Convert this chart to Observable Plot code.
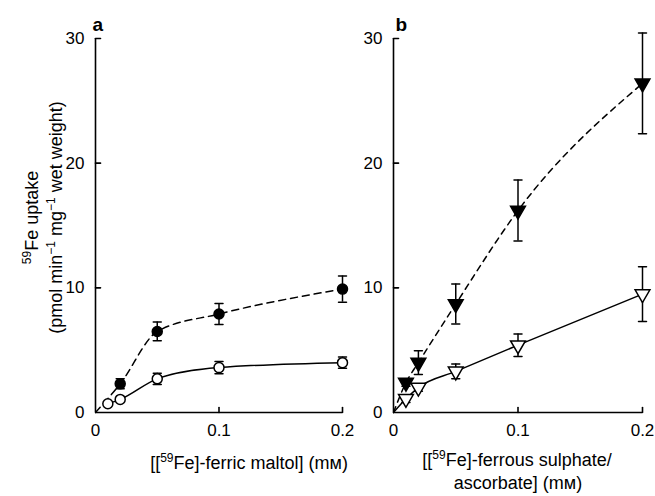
<!DOCTYPE html>
<html><head><meta charset="utf-8">
<script src="https://cdn.jsdelivr.net/npm/d3@7"></script>
<script src="https://cdn.jsdelivr.net/npm/@observablehq/plot@0.6"></script>
<style>
body{margin:0;background:#fff;}
#wrap{position:relative;width:655px;height:496px;overflow:hidden;}
#wrap svg{position:absolute;top:0;background:transparent;}
</style></head><body><div id="wrap"></div>
<script>
// ---- data ----
const yTicks = [0, 10, 20, 30];
const xTicks = [0, 0.1, 0.2];
// panel a: ferric maltol
const maltolFilledX = [0.02, 0.05, 0.1, 0.2];
const maltolFilledY = [2.3, 6.5, 7.9, 9.9];
const maltolFilledE = [0.4, 0.75, 0.85, 1.05];
const maltolOpenX = [0.01, 0.02, 0.05, 0.1, 0.2];
const maltolOpenY = [0.7, 1.05, 2.7, 3.6, 4.0];
const maltolOpenE = [0, 0, 0.45, 0.5, 0.45];
// panel b: ferrous sulphate / ascorbate
const sulphX = [0.01, 0.02, 0.05, 0.1, 0.2];
const sulphFilledY = [2.4, 4.0, 8.7, 16.2, 26.4];
const sulphFilledE = [0.3, 0.95, 1.6, 2.45, 4.05];
const sulphOpenY = [1.1, 2.0, 3.3, 5.4, 9.5];
const sulphOpenE = [0.3, 0.3, 0.6, 0.9, 2.2];
const fitOrigin = [{x: 0, y: 0}];

const rows = (xs, ys, es) => xs.map((x, i) => ({x, y: ys[i], e: es[i]}));
const tickShape = {draw(ctx, l) { ctx.moveTo(0, 0); ctx.lineTo(0, -l); }};
const FONT = "'Liberation Sans', Arial, Helvetica, sans-serif";
const FS = 17;   // tick labels
const TS = 18;   // axis titles

// turn "{..}" parts of a label into real superscript tspans
function supRender(index, scales, values, dims, ctx, next) {
  const g = next(index, scales, values, dims, ctx);
  d3.select(g).selectAll("text").each(function () {
    const t = this.textContent;
    if (!t.includes("{")) return;
    const sel = d3.select(this);
    sel.text(null);
    const parts = t.split(/\{([^}]*)\}/);
    let raised = false;
    parts.forEach((p, i) => {
      if (!p) return;
      const span = sel.append("tspan").text(p);
      if (i % 2) {
        span.attr("font-size", Math.round(TS * 0.68)).attr("dy", raised ? 0 : -7);
        raised = true;
      } else if (raised) {
        span.attr("dy", 7);
        raised = false;
      }
    });
  });
  return g;
}

function seriesMarks(data, {symbol, fill, r, rotate, dash, line}) {
  const eb = data.filter(d => d.e > 0);
  return [
    Plot.line(line, {x: "x", y: "y", curve: "monotone-x", stroke: "black", strokeWidth: 1.5, strokeDasharray: dash}),
    Plot.ruleX(eb, {x: "x", y1: d => d.y - d.e, y2: d => d.y + d.e, stroke: "black", strokeWidth: 1.5}),
    Plot.vector(eb, {x: "x", y: d => d.y + d.e, length: 8, rotate: 90, anchor: "middle", shape: tickShape, stroke: "black", strokeWidth: 1.5}),
    Plot.vector(eb, {x: "x", y: d => d.y - d.e, length: 8, rotate: 90, anchor: "middle", shape: tickShape, stroke: "black", strokeWidth: 1.5}),
    Plot.dot(data, {x: "x", y: "y", symbol, r, rotate, fill, stroke: "black", strokeWidth: 1.5})
  ];
}

function panel({left, width, marginLeft, marginRight, letter, letterDx, xlabels, extra, series}) {
  const p = Plot.plot({
    width, height: 496, marginLeft, marginRight, marginTop: 38, marginBottom: 84,
    style: {fontFamily: FONT, fontSize: FS + "px", background: "transparent", color: "black"},
    x: {domain: [0, 0.2]},
    y: {domain: [0, 30]},
    marks: [
      Plot.ruleX([0], {y1: 0, y2: 30, strokeWidth: 1.6}),
      Plot.ruleY([0], {x1: 0, x2: 0.2, strokeWidth: 1.6}),
      Plot.vector(yTicks.filter(d => d > 0), {x: 0, y: d => d, length: 5, rotate: 90, anchor: "start", shape: tickShape, strokeWidth: 1.6}),
      Plot.vector(xTicks.filter(d => d > 0), {x: d => d, y: 0, length: 5, rotate: 0, anchor: "start", shape: tickShape, strokeWidth: 1.6}),
      Plot.axisY({ticks: yTicks, tickSize: 0, tickPadding: 11, label: null, fontSize: FS}),
      Plot.axisX({ticks: xTicks, tickSize: 0, tickPadding: 11, label: null, fontSize: FS, tickFormat: d => String(d)}),
      Plot.text([letter], {frameAnchor: "top-left", dx: letterDx, dy: -14, lineAnchor: "middle", textAnchor: "start", fontWeight: "bold", fontSize: 19}),
      ...xlabels.map(l => Plot.text([l.text], {frameAnchor: "bottom", dx: l.dx, dy: l.dy, lineAnchor: "middle", fontSize: TS, render: supRender})),
      ...(extra || []),
      ...series.flatMap(s => seriesMarks(s.data, s))
    ]
  });
  p.style.left = left + "px";
  document.getElementById("wrap").appendChild(p);
}

panel({
  left: 0, width: 360, marginLeft: 95, marginRight: 18, letter: "a", letterDx: -3,
  xlabels: [{text: "[[{59}Fe]-ferric maltol] (mᴍ)", dx: 30, dy: 51}],
  extra: [
    Plot.text(["{59}Fe uptake"], {frameAnchor: "left", dx: -63, dy: -8, rotate: -90, textAnchor: "middle", lineAnchor: "middle", fontSize: TS, render: supRender}),
    Plot.text(["(pmol min{−1} mg{−1} wet weight)"], {frameAnchor: "left", dx: -39, dy: -8, rotate: -90, textAnchor: "middle", lineAnchor: "middle", fontSize: TS, render: supRender})
  ],
  series: [
    {data: rows(maltolFilledX, maltolFilledY, maltolFilledE), line: fitOrigin.concat(rows(maltolFilledX, maltolFilledY, maltolFilledE)), symbol: "circle", fill: "black", r: 5, rotate: 0, dash: "7,5"},
    {data: rows(maltolOpenX, maltolOpenY, maltolOpenE), line: rows(maltolOpenX, maltolOpenY, maltolOpenE), symbol: "circle", fill: "white", r: 5, rotate: 0, dash: null}
  ]
});

panel({
  left: 360, width: 295, marginLeft: 33, marginRight: 13, letter: "b", letterDx: 2,
  xlabels: [
    {text: "[[{59}Fe]-ferrous sulphate/", dx: -1, dy: 48},
    {text: "ascorbate] (mᴍ)", dx: 0, dy: 71}
  ],
  series: [
    {data: rows(sulphX, sulphFilledY, sulphFilledE), line: fitOrigin.concat(rows(sulphX, sulphFilledY, sulphFilledE)), symbol: "triangle", fill: "black", r: 5.5, rotate: 180, dash: "6,5"},
    {data: rows(sulphX, sulphOpenY, sulphOpenE), line: fitOrigin.concat(rows(sulphX, sulphOpenY, sulphOpenE)), symbol: "triangle", fill: "white", r: 5.5, rotate: 180, dash: null}
  ]
});
</script></body></html>
